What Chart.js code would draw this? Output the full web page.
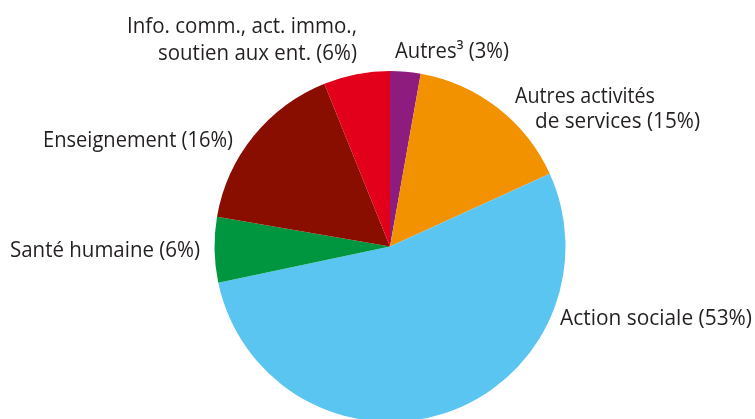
<!DOCTYPE html>
<html lang="fr">
<head>
<meta charset="utf-8">
<script src="https://cdn.jsdelivr.net/npm/chart.js@4/dist/chart.umd.min.js"></script>
<style>
  html, body { margin: 0; padding: 0; background: #fff; overflow: hidden; }
  #wrap { position: relative; width: 755px; height: 440px; }
</style>
</head>
<body>
<div id="wrap"><canvas id="pieChart"></canvas></div>
<script>
// slices, clockwise from 12 o'clock
const categories = [
  "Autres³",
  "Autres activités de services",
  "Action sociale",
  "Santé humaine",
  "Enseignement",
  "Info. comm., act. immo., soutien aux ent."
];
const shares = [2.8, 15.4, 53.5, 6.0, 16.2, 6.1];
const shownPercent = ["3%", "15%", "53%", "6%", "16%", "6%"];
const colors = ["#8e1b7e", "#f39200", "#5bc5f2", "#00963f", "#8a0e00", "#e2001a"];

// label text lines per slice
const labelLines = [
  ["Autres³ (3%)"],
  ["Autres activités", "de services (15%)"],
  ["Action sociale (53%)"],
  ["Santé humaine (6%)"],
  ["Enseignement (16%)"],
  ["Info. comm., act. immo.,", "soutien aux ent. (6%)"]
];

// where each line sits: [left x, baseline y, width]
const labelPlaces = [
  [[395, 58, 114]],
  [[515, 103, 140], [535, 128, 165]],
  [[560, 325, 192]],
  [[10, 257, 190]],
  [[43, 147, 190]],
  [[127, 33, 230], [158, 60, 199]]
];

const sliceLabels = {
  id: "sliceLabels",
  afterDraw(chart) {
    const ctx = chart.ctx;
    ctx.save();
    ctx.fillStyle = "#231f20";
    ctx.font = "21px 'Open Sans', Lato, sans-serif";
    ctx.textAlign = "left";
    ctx.textBaseline = "alphabetic";
    labelLines.forEach((lines, i) => {
      lines.forEach((line, j) => {
        const p = labelPlaces[i][j];
        ctx.fillText(line, p[0], p[1], p[2]);
      });
    });
    ctx.restore();
  }
};

new Chart(document.getElementById("pieChart"), {
  type: "pie",
  data: {
    labels: categories.map((c, i) => c + " (" + shownPercent[i] + ")"),
    datasets: [{
      data: shares,
      backgroundColor: colors,
      borderWidth: 0
    }]
  },
  options: {
    responsive: true,
    maintainAspectRatio: false,
    animation: false,
    layout: { padding: { left: 214, right: 189, top: 71, bottom: 18 } },
    plugins: {
      legend: { display: false },
      tooltip: { enabled: false }
    }
  },
  plugins: [sliceLabels]
});
</script>
</body>
</html>
